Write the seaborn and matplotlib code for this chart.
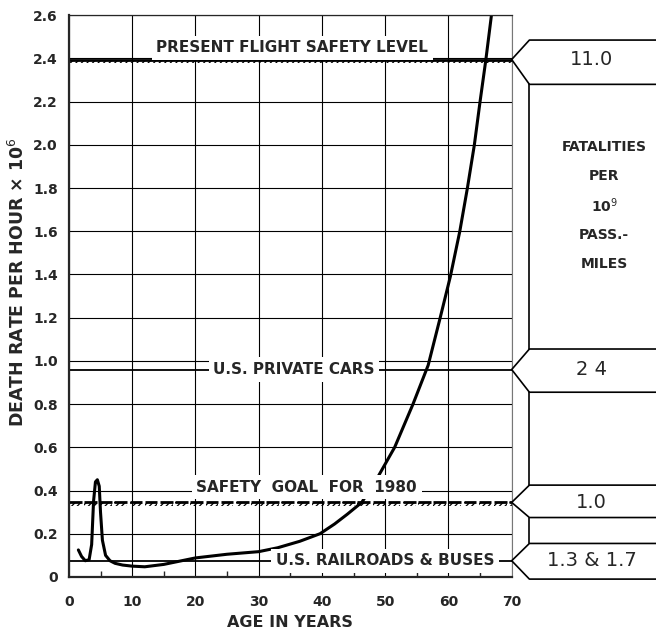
import numpy as np
import pandas as pd
import matplotlib
matplotlib.use('Agg')
import matplotlib.pyplot as plt
import seaborn as sns

# death rate per hour (x 10^6) against age
ages = [1.5, 2.0, 2.6, 3.2, 3.6, 3.9, 4.2, 4.5, 4.8, 5.0, 5.3, 5.8, 6.5, 7.3, 8.5,
        10, 12, 15, 20, 25, 30, 33, 36.5, 39.7, 42, 44, 46.3, 48.6, 51.5, 54.4,
        56.8, 58.7, 60.3, 61.8, 63.0, 64.1, 65.0, 65.9, 66.8]
death_rate = [0.125, 0.095, 0.075, 0.08, 0.15, 0.35, 0.44, 0.45, 0.42, 0.30, 0.17, 0.10, 0.075, 0.063, 0.055,
              0.05, 0.047, 0.058, 0.088, 0.105, 0.117, 0.135, 0.165, 0.20, 0.245, 0.29, 0.345, 0.45, 0.60, 0.80,
              0.98, 1.20, 1.39, 1.60, 1.80, 2.00, 2.20, 2.39, 2.60]

# reference levels (same units) and their fatalities per 10^9 pass.-miles
level_names = ['PRESENT FLIGHT SAFETY LEVEL', 'U.S. PRIVATE CARS', 'SAFETY  GOAL  FOR  1980', 'U.S. RAILROADS & BUSES']
level_values = [2.395, 0.96, 0.345, 0.075]
fatalities = ['11.0', '2 4', '1.0', '1.3 & 1.7']
unit_lines = ['FATALITIES', 'PER', '10$^9$', 'PASS.-', 'MILES']

df = pd.DataFrame({'age': ages, 'rate': death_rate})

sns.set_style('white')
plt.rcParams['font.family'] = ['DejaVu Sans']
plt.rcParams['hatch.linewidth'] = 0.9

fig = plt.figure(figsize=(6.56, 6.34), dpi=100)
ax = fig.add_axes([0.105, 0.09, 0.675, 0.886])

sns.lineplot(data=df, x='age', y='rate', color='black', linewidth=2.2, ax=ax, zorder=2)

ax.set_xlim(0, 70)
ax.set_ylim(0, 2.6)
ax.set_xticks(range(0, 71, 10))
yt = np.arange(0, 2.61, 0.2)
ax.set_yticks(yt)
ax.set_yticklabels(['0'] + [f'{v:.1f}' for v in yt[1:]])
ax.set_xticks(np.arange(5, 70, 10), minor=True)
ax.set_axisbelow(True)
ax.grid(True, which='major', color='black', linewidth=0.8)
ax.tick_params(which='major', length=0, labelsize=10)
ax.tick_params(axis='x', which='major', pad=13)
ax.tick_params(axis='y', which='major', pad=8)
ax.tick_params(axis='x', which='minor', direction='in', length=4, width=1, bottom=True)
for lab in ax.get_xticklabels() + ax.get_yticklabels():
    lab.set_fontweight('bold')

ax.spines['left'].set_linewidth(1.6)
ax.spines['bottom'].set_linewidth(1.6)
ax.spines['top'].set_linewidth(0.9)
ax.spines['right'].set_linewidth(0.8)
ax.spines['right'].set_color('#777777')
for s in ax.spines.values():
    s.set_zorder(2.6)

ax.set_xlabel('AGE IN YEARS', fontsize=11.5, fontweight='bold')
ax.set_ylabel('DEATH RATE PER HOUR × 10$^6$', fontsize=12.5, fontweight='bold')
ax.xaxis.set_label_coords(0.5, -0.068)
ax.yaxis.set_label_coords(-0.093, 0.525)

# present flight safety level: solid line with hatching underneath
flight = level_values[0]
ax.hlines(flight, 0, 70, color='black', linewidth=2.0, zorder=2.5)
ax.fill_between([0, 70], flight - 0.018, flight, hatch='//////', facecolor='none',
                edgecolor='black', linewidth=0, zorder=2.5)

# safety goal: dashed hatched line
goal = level_values[2]
for x0 in np.arange(0, 70, 2.4):
    x1 = min(x0 + 2.0, 70)
    ax.hlines(goal, x0, x1, color='black', linewidth=2.0, zorder=2.5)
    ax.fill_between([x0, x1], goal - 0.018, goal, hatch='//////', facecolor='none',
                    edgecolor='black', linewidth=0, zorder=2.5)

# plain lines for cars and railroads
ax.hlines(level_values[1], 0, 70, color='black', linewidth=1.3, zorder=2.5)
ax.hlines(level_values[3], 0, 70, color='black', linewidth=1.3, zorder=2.5)

label_pos = [(35.3, 2.45), (35.6, level_values[1]), (37.6, 0.415), (50.0, level_values[3])]
for name, (lx, ly) in zip(level_names, label_pos):
    ax.text(lx, ly, name, ha='center', va='center', fontsize=11, fontweight='bold',
            bbox=dict(boxstyle='square,pad=0.3', facecolor='white', edgecolor='none'), zorder=3)

# right hand panel with arrow boxes
box_left, box_right = 72.8, 96
box_offsets = [(0.09, 0.115), (0.095, 0.105), (0.08, 0.07), (0.08, 0.085)]
tops, bottoms = [], []
for val, txt, (up, dn) in zip(level_values, fatalities, box_offsets):
    xs = [box_right, box_left, 70, box_left, box_right]
    ys = [val + up, val + up, val, val - dn, val - dn]
    ax.plot(xs, ys, color='black', linewidth=1.2, clip_on=False, zorder=3)
    ax.text(82.6, val, txt, ha='center', va='center', fontsize=14, clip_on=False)
    tops.append(val + up)
    bottoms.append(val - dn)
for i in range(len(level_values) - 1):
    ax.plot([box_left, box_left], [bottoms[i], tops[i + 1]], color='black', linewidth=1.2,
            clip_on=False, zorder=3)

for i, line in enumerate(unit_lines):
    ax.text(84.6, 1.99 - i * 0.135, line, ha='center', va='center', fontsize=10,
            fontweight='bold', clip_on=False)

plt.savefig('out.png', dpi=100)
